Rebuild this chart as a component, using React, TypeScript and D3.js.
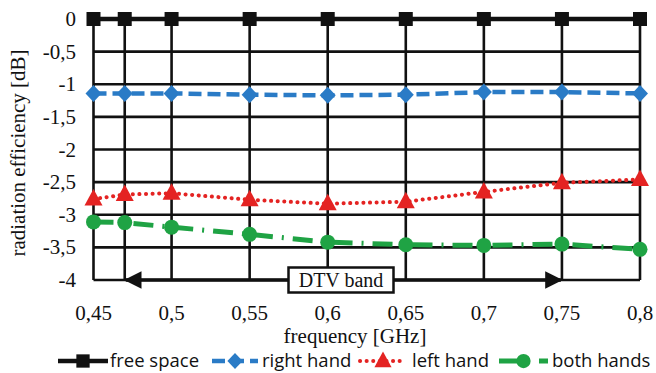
import React from "react";
import * as d3 from "d3";

// Frequencies in GHz where the antenna was evaluated
const freqs = [0.45, 0.47, 0.5, 0.55, 0.6, 0.65, 0.7, 0.75, 0.8];
const xTicks = [0.45, 0.5, 0.55, 0.6, 0.65, 0.7, 0.75, 0.8];
const yTicks = [0, -0.5, -1, -1.5, -2, -2.5, -3, -3.5, -4];

// Radiation efficiency in dB for each configuration
const freeSpace = [0, 0, 0, 0, 0, 0, 0, 0, 0];
const rightHand = [-1.14, -1.14, -1.14, -1.16, -1.17, -1.16, -1.12, -1.12, -1.14];
const leftHand = [-2.76, -2.69, -2.67, -2.77, -2.83, -2.8, -2.65, -2.51, -2.46];
const bothHands = [-3.11, -3.12, -3.19, -3.3, -3.42, -3.46, -3.47, -3.45, -3.53];

// DTV band limits in GHz
const bandStart = 0.47;
const bandEnd = 0.75;

const W = 656;
const H = 373;

const fmt = (v: number) => String(v).replace(".", ",");

type SeriesDef = {
  name: string;
  values: number[];
  color: string;
  width: number;
  dash: string | null;
  cap: "butt" | "round";
  marker: "square" | "diamond" | "triangle" | "circle";
};

const series: SeriesDef[] = [
  { name: "free space", values: freeSpace, color: "#111111", width: 4.5, dash: null, cap: "butt", marker: "square" },
  { name: "right hand", values: rightHand, color: "#2a7bc6", width: 4.5, dash: "13 6", cap: "butt", marker: "diamond" },
  { name: "left hand", values: leftHand, color: "#e42322", width: 4, dash: "0.1 6.5", cap: "round", marker: "triangle" },
  { name: "both hands", values: bothHands, color: "#1fa344", width: 5, dash: "20 9 2 9", cap: "butt", marker: "circle" },
];

function Marker({ kind, x, y, color, s = 1 }: { kind: SeriesDef["marker"]; x: number; y: number; color: string; s?: number }) {
  if (kind === "square") return <rect x={x - 7 * s} y={y - 7 * s} width={14 * s} height={14 * s} fill={color} />;
  if (kind === "diamond")
    return (
      <path d={`M${x},${y - 8.5 * s} L${x + 8 * s},${y} L${x},${y + 8.5 * s} L${x - 8 * s},${y} Z`} fill={color} />
    );
  if (kind === "triangle")
    return <path d={`M${x},${y - 10 * s} L${x + 9 * s},${y + 6.5 * s} L${x - 9 * s},${y + 6.5 * s} Z`} fill={color} />;
  return <circle cx={x} cy={y} r={7.5 * s} fill={color} />;
}

export default function App() {
  const x = d3.scaleLinear().domain([0.45, 0.8]).range([93.5, 640]);
  const y = d3.scaleLinear().domain([0, -4]).range([19, 280]);

  const line = d3
    .line<number>()
    .x((_, i) => x(freqs[i]))
    .y((v) => y(v));

  const legendItems = [
    { s: series[0], x0: 58, x1: 108, tx: 110 },
    { s: series[1], x0: 212, x1: 258, tx: 262 },
    { s: series[2], x0: 360, x1: 406, tx: 412 },
    { s: series[3], x0: 499, x1: 548, tx: 552 },
  ];
  const legendY = 361;

  const serif = "'Liberation Serif', 'DejaVu Serif', serif";
  const sans = "'Open Sans', 'Liberation Sans', sans-serif";

  return (
    <svg
      width={W}
      height={H}
      style={{ position: "absolute", left: 0, top: 0, background: "#fff" }}
      xmlns="http://www.w3.org/2000/svg"
    >
      <defs>
        <marker id="arrowHead" viewBox="0 0 10 10" refX="9" refY="5" markerWidth="5.5" markerHeight="5" orient="auto-start-reverse" markerUnits="strokeWidth">
          <path d="M0,0 L10,5 L0,10 Z" fill="#111" />
        </marker>
      </defs>

      {/* grid */}
      <g stroke="#111" strokeWidth={2.6}>
        {yTicks.map((t) => (
          <line key={`h${t}`} x1={x(0.45)} x2={x(0.8)} y1={y(t)} y2={y(t)} />
        ))}
        {freqs.map((f) => (
          <line key={`v${f}`} x1={x(f)} x2={x(f)} y1={y(0)} y2={y(-4)} />
        ))}
      </g>

      {/* y tick labels */}
      <g fontFamily={serif} fontSize={21} fill="#111" textAnchor="end">
        {yTicks.map((t) => (
          <text key={t} x={76} y={y(t) + 7}>
            {fmt(t)}
          </text>
        ))}
      </g>

      {/* x tick labels */}
      <g fontFamily={serif} fontSize={21} fill="#111" textAnchor="middle">
        {xTicks.map((t) => (
          <text key={t} x={x(t)} y={320}>
            {fmt(t)}
          </text>
        ))}
      </g>

      {/* axis titles */}
      <text x={355} y={343} fontFamily={serif} fontSize={21} textAnchor="middle" fill="#111">
        frequency [GHz]
      </text>
      <text
        transform={`translate(25,${153}) rotate(-90)`}
        fontFamily={serif}
        fontSize={21}
        textAnchor="middle"
        fill="#111"
      >
        radiation efficiency [dB]
      </text>

      {/* series */}
      {series.map((s) => (
        <g key={s.name}>
          <path
            d={line(s.values) ?? ""}
            fill="none"
            stroke={s.color}
            strokeWidth={s.width}
            strokeDasharray={s.dash ?? undefined}
            strokeLinecap={s.cap}
            strokeLinejoin="round"
          />
          {s.values.map((v, i) => (
            <Marker key={i} kind={s.marker} x={x(freqs[i])} y={y(v)} color={s.color} />
          ))}
        </g>
      ))}

      {/* DTV band arrow */}
      <line
        x1={x(bandStart) + 1}
        x2={x(bandEnd) - 1}
        y1={y(-4)}
        y2={y(-4)}
        stroke="#111"
        strokeWidth={3.5}
        markerStart="url(#arrowHead)"
        markerEnd="url(#arrowHead)"
      />
      <rect x={288.5} y={267.5} width={105} height={25} fill="#fff" stroke="#111" strokeWidth={2.5} />
      <text x={341} y={287} fontFamily={serif} fontSize={20} textAnchor="middle" fill="#111">
        DTV band
      </text>

      {/* legend */}
      {legendItems.map(({ s, x0, x1, tx }) => (
        <g key={s.name}>
          <line
            x1={x0}
            x2={x1}
            y1={legendY}
            y2={legendY}
            stroke={s.color}
            strokeWidth={s.width}
            strokeDasharray={s.dash ?? undefined}
            strokeLinecap={s.cap}
          />
          <Marker kind={s.marker} x={(x0 + x1) / 2} y={legendY} color={s.color} s={0.95} />
          <text x={tx} y={legendY + 6} fontFamily={sans} fontSize={18.5} fill="#111">
            {s.name}
          </text>
        </g>
      ))}
    </svg>
  );
}
